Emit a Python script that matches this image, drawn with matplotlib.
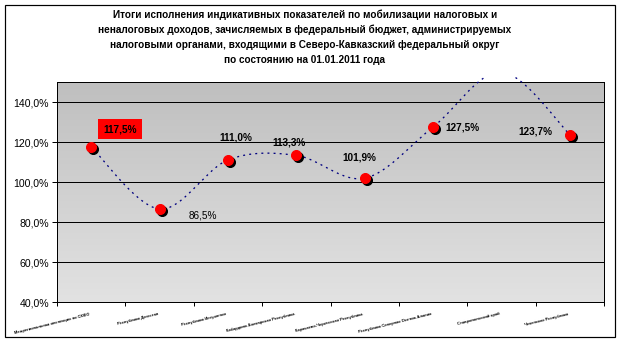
"""Line chart: indicative revenue targets fulfilment by tax office, NCFD, 01.01.2011."""
import matplotlib
matplotlib.use("Agg")
import matplotlib.pyplot as plt
import matplotlib.transforms as mtransforms
from matplotlib.patches import Rectangle
import numpy as np

plt.rcParams["font.family"] = ["Liberation Sans", "DejaVu Sans"]

TITLE = [
    "Итоги исполнения индикативных показателей по мобилизации налоговых и",
    "неналоговых доходов, зачисляемых в федеральный бюджет, администрируемых",
    "налоговыми органами, входящими в Северо-Кавказский федеральный округ",
    "по состоянию на 01.01.2011 года",
]
regions = [
    "Межрегиональная инспекция по СКФО",
    "Республика Дагестан",
    "Республика Ингушетия",
    "Кабардино-Балкарская Республика",
    "Карачаево-Черкесская Республика",
    "Республика Северная Осетия-Алания",
    "Ставропольский край",
    "Чеченская Республика",
]
# percent of target; the 7th value lies above the axis maximum
values = [117.5, 86.5, 111.0, 113.3, 101.9, 127.5, 155.0, 123.7]
value_labels = ["117,5%", "86,5%", "111,0%", "113,3%", "101,9%", "127,5%", None, "123,7%"]
yticks = [40, 60, 80, 100, 120, 140]

W, H, DPI = 621, 342, 72


def smooth(xs, ys, sx, sy, n=40):
    """Excel-style smoothed line: cubic Bezier with Catmull-Rom tangents,
    computed in screen-scaled space."""
    p = np.column_stack([np.asarray(xs) * sx, np.asarray(ys) * sy])
    pts = np.vstack([p[0], p, p[-1]])
    out = []
    for i in range(1, len(pts) - 2):
        p0, p1, p2, p3 = pts[i - 1], pts[i], pts[i + 1], pts[i + 2]
        c1 = p1 + (p2 - p0) / 6.0
        c2 = p2 - (p3 - p1) / 6.0
        t = np.linspace(0, 1, n)[:, None]
        seg = ((1 - t) ** 3) * p1 + 3 * ((1 - t) ** 2) * t * c1 \
            + 3 * (1 - t) * t ** 2 * c2 + t ** 3 * p2
        out.append(seg if i == 1 else seg[1:])
    out = np.vstack(out)
    return out[:, 0] / sx, out[:, 1] / sy


fig = plt.figure(figsize=(W / DPI, H / DPI), dpi=DPI)

# plot area in pixels
left, right, top, bottom = 57, 604, 82, 302
ax = fig.add_axes([left / W, 1 - bottom / H, (right - left) / W, (bottom - top) / H])

n = len(regions)
x = np.arange(n)
ax.set_xlim(-0.5, n - 0.5)
ax.set_ylim(40, 150)

# grey gradient background
grad = np.linspace(0, 1, 256)[:, None]
ax.imshow(grad, extent=(-0.5, n - 0.5, 40, 150), aspect="auto", origin="lower",
          cmap=matplotlib.colors.LinearSegmentedColormap.from_list(
              "bg", ["#e2e2e2", "#bfbfbf"]), zorder=0)

for yv in yticks[1:]:
    ax.axhline(yv, color="black", lw=1.0, zorder=1)

# smoothed dotted line, allowed to spill a few px above the plot top
sx = (right - left) / n
sy = (bottom - top) / 110.0
lx, ly = smooth(x, values, sx, sy)
line, = ax.plot(lx, ly, color="#000080", lw=1.3, ls=(0, (1.5, 3.2)),
                zorder=3, clip_on=True)
clip = Rectangle((left / W, 1 - bottom / H), (right - left) / W,
                 (bottom - 77) / H, transform=fig.transFigure)
line.set_clip_path(clip)

# markers with a black drop shadow
visible = [i for i, v in enumerate(values) if v <= 150]
mx = x[visible]
my = np.array(values)[visible]
shadow = mtransforms.offset_copy(ax.transData, fig=fig, x=2, y=-2, units="dots")
ax.plot(mx, my, "o", color="black", ms=10, mec="black", transform=shadow, zorder=4)
ax.plot(mx, my, "o", color="#ff0000", ms=10, mec="#ff0000", zorder=5)

# data labels (offsets in px)
offsets = [(29, 18), (43, -6), (8, 23), (-7, 13), (-5, 21), (29, -1), None, (-34, 3)]
for i, (v, lab) in enumerate(zip(values, value_labels)):
    if lab is None:
        continue
    dx, dy = offsets[i]
    kw = dict(fontsize=10, ha="center", va="center", zorder=6,
              fontweight="normal" if i == 1 else "bold")
    if i == 0:
        kw["bbox"] = dict(boxstyle="square,pad=0.5", fc="#ff0000", ec="none")
    ax.annotate(lab, (x[i], v), xytext=(dx, dy), textcoords="offset points", **kw)

# axes styling
for s in ax.spines.values():
    s.set_color("black")
    s.set_linewidth(1.0)
ax.set_yticks(yticks)
ax.set_yticklabels([f"{t},0%" for t in yticks], fontsize=10.5)
ax.tick_params(axis="y", direction="out", length=5, width=1, pad=3)
ax.set_xticks(np.arange(n + 1) - 0.5)
ax.set_xticklabels([])
ax.tick_params(axis="x", direction="out", length=4, width=1)
for i, name in enumerate(regions):
    ax.annotate(name, (x[i], 40), xytext=(-2, -10), textcoords="offset points",
                ha="right", va="top", rotation=14, rotation_mode="anchor",
                fontsize=4, fontweight="bold", annotation_clip=False)

# title
for k, line_txt in enumerate(TITLE):
    fig.text(305 / W, 1 - (15 + 15 * k) / H, line_txt, ha="center", va="center",
             fontsize=10, fontweight="bold")

# chart frame
fig.add_artist(Rectangle((5 / W, 1 - 337 / H), 610 / W, 332 / H,
                         transform=fig.transFigure, fill=False, ec="black", lw=1.2))

fig.savefig("out.png", dpi=DPI)
